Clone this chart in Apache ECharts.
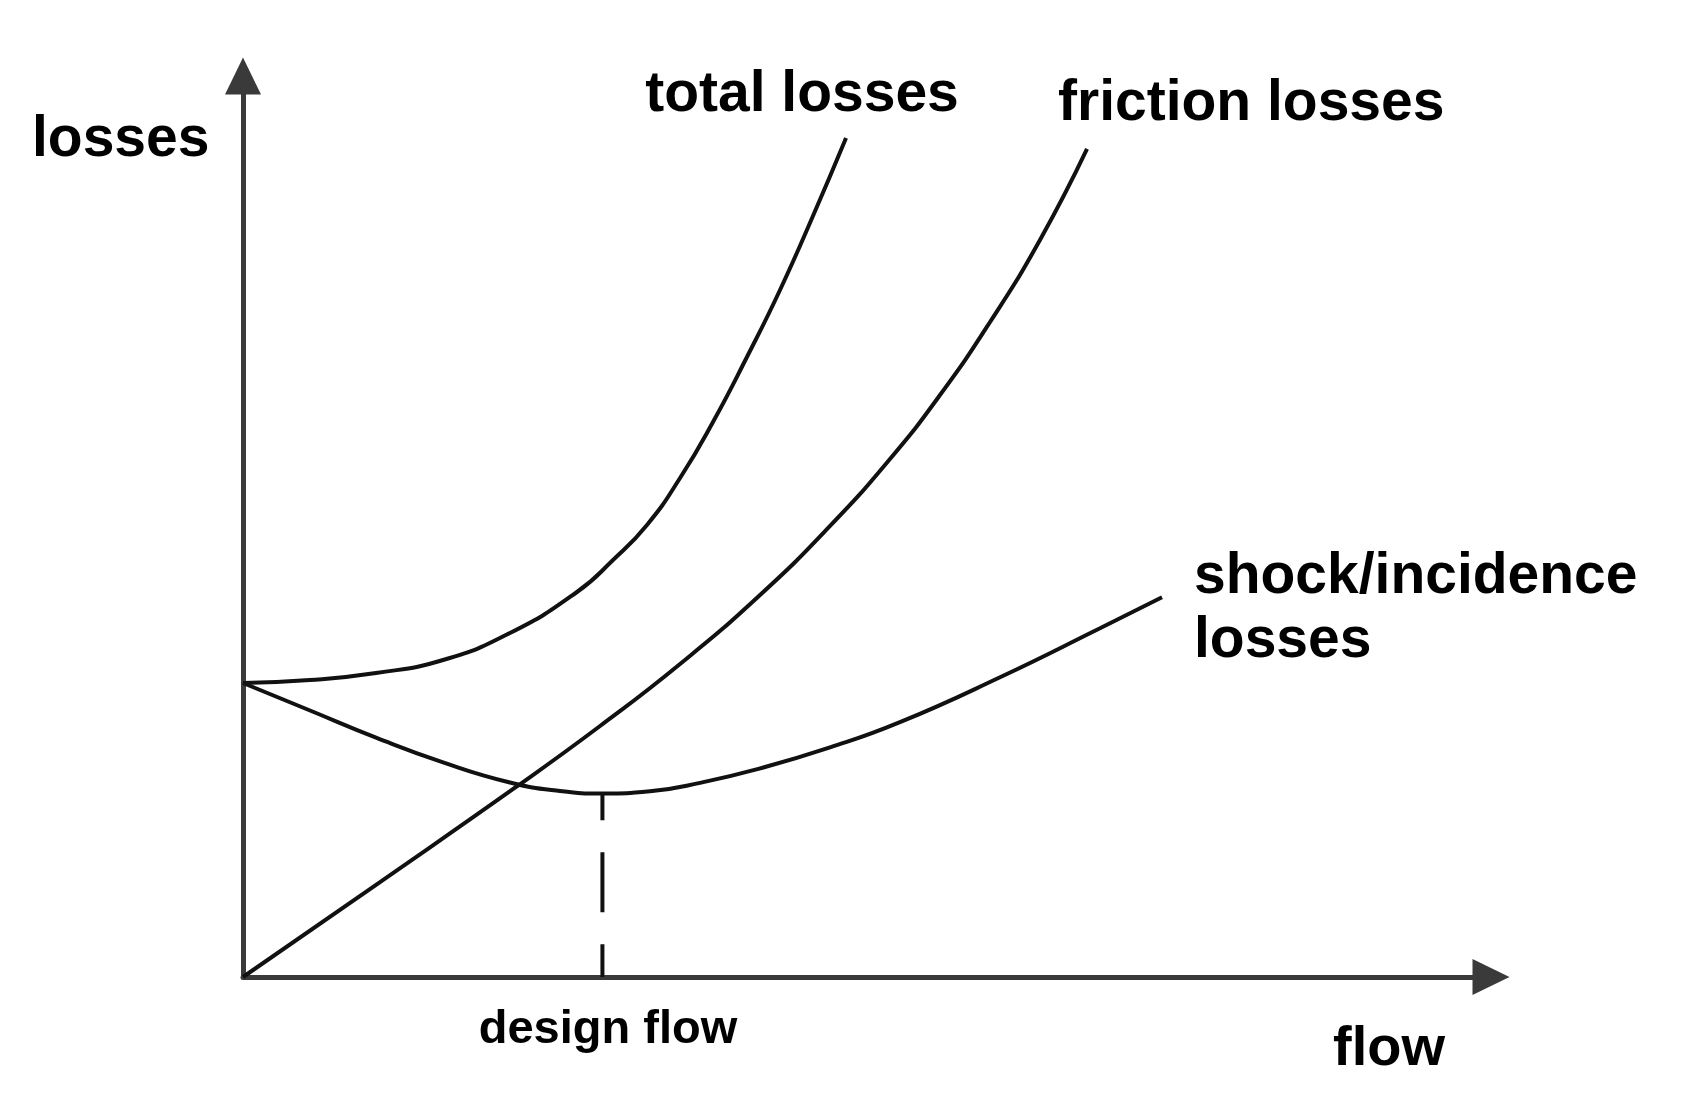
<!DOCTYPE html>
<html>
<head>
<meta charset="utf-8">
<script src="https://cdn.jsdelivr.net/npm/echarts@6/dist/echarts.min.js"></script>
<style>
  html, body { margin: 0; padding: 0; background: #ffffff; }
  #chart { width: 1681px; height: 1106px; }
</style>
</head>
<body>
<div id="chart"></div>
<script>
// ---- data (arbitrary units: flow 0..100, losses 0..100) ----
const totalFlow   = [0, 5.37, 10.66, 16.03, 21.39, 26.76, 29.65, 32.37, 35.02, 37.66, 40.38, 43.03, 45.67, 48.32];
const totalLosses = [32.63, 32.96, 33.74, 35.18, 38.18, 42.73, 46.28, 50.17, 55.38, 61.60, 68.81, 76.25, 84.46, 93.12];

const frictionFlow   = [0, 10.98, 21.88, 28.61, 35.02, 41.43, 47.04, 51.84, 55.85, 59.86, 63.86, 67.63];
const frictionLosses = [0, 10.54, 21.09, 27.86, 34.74, 42.40, 50.06, 57.49, 64.59, 72.70, 81.80, 91.90];

const shockFlow   = [0, 5.37, 10.66, 16.03, 21.39, 25.40, 28.85, 32.61, 36.62, 41.43, 47.04, 52.64, 60.66, 68.67, 73.64];
const shockLosses = [32.63, 29.58, 26.57, 23.82, 21.59, 20.64, 20.36, 20.61, 21.55, 23.15, 25.48, 28.28, 33.27, 38.71, 42.15];

const designFlow = 28.8;
const designLossMin = 20.4;

const axisNames = { x: 'flow', y: 'losses' };
const curveNames = ['total losses', 'friction losses', 'shock/incidence', 'losses'];
const designLabel = 'design flow';

// ---- build ----
function pairs(xs, ys) { return xs.map((x, i) => [x, ys[i]]); }

const curveColor = '#111111';
const axisColor = '#3a3a3a';
const family = '"Liberation Sans", Arial, sans-serif';
const font = 'bold 57px ' + family;
const fontFlow = 'bold 56px ' + family;
const fontSmall = 'bold 47px ' + family;

function txt(text, x, y, align, f) {
  return {
    type: 'text', x: x, y: y, silent: true,
    style: {
      text: text, font: f || font, fill: '#000000',
      align: align, verticalAlign: 'middle',
      textAlign: align, textVerticalAlign: 'middle'
    }
  };
}

function curve(name, xs, ys) {
  return { name: name, type: 'line', data: pairs(xs, ys), smooth: 0.5,
    symbol: 'none', lineStyle: { color: curveColor, width: 4 }, z: 3 };
}

const chart = echarts.init(document.getElementById('chart'), null, { renderer: 'canvas' });
chart.setOption({
  animation: false,
  backgroundColor: '#ffffff',
  grid: { left: 243, top: 76, width: 1248, height: 901, containLabel: false, outerBoundsMode: 'none' },
  xAxis: {
    type: 'value', min: 0, max: 100,
    axisLine: { show: true, onZero: false, symbol: ['none', 'triangle'], symbolSize: [36, 37],
      lineStyle: { color: axisColor, width: 5 } },
    axisTick: { show: false }, axisLabel: { show: false }, splitLine: { show: false }
  },
  yAxis: {
    type: 'value', min: 0, max: 100,
    axisLine: { show: true, onZero: false, symbol: ['none', 'triangle'], symbolSize: [36, 37],
      lineStyle: { color: axisColor, width: 5 } },
    axisTick: { show: false }, axisLabel: { show: false }, splitLine: { show: false }
  },
  series: [
    curve(curveNames[0], totalFlow, totalLosses),
    curve(curveNames[1], frictionFlow, frictionLosses),
    curve(curveNames[2], shockFlow, shockLosses),
    { name: 'design', type: 'line', data: [[designFlow, designLossMin], [designFlow, 0]],
      symbol: 'none', lineStyle: { color: curveColor, width: 4, type: [60, 32], dashOffset: 33 }, z: 2 }
  ],
  graphic: [
    txt(axisNames.y, 32, 140, 'left'),
    txt(axisNames.x, 1333, 1050, 'left', fontFlow),
    txt(curveNames[0], 802, 95, 'center'),
    txt(curveNames[1], 1058, 104, 'left'),
    txt(curveNames[2], 1194, 577, 'left'),
    txt(curveNames[3], 1194, 641, 'left'),
    txt(designLabel, 608, 1030, 'center', fontSmall)
  ]
});
</script>
</body>
</html>
